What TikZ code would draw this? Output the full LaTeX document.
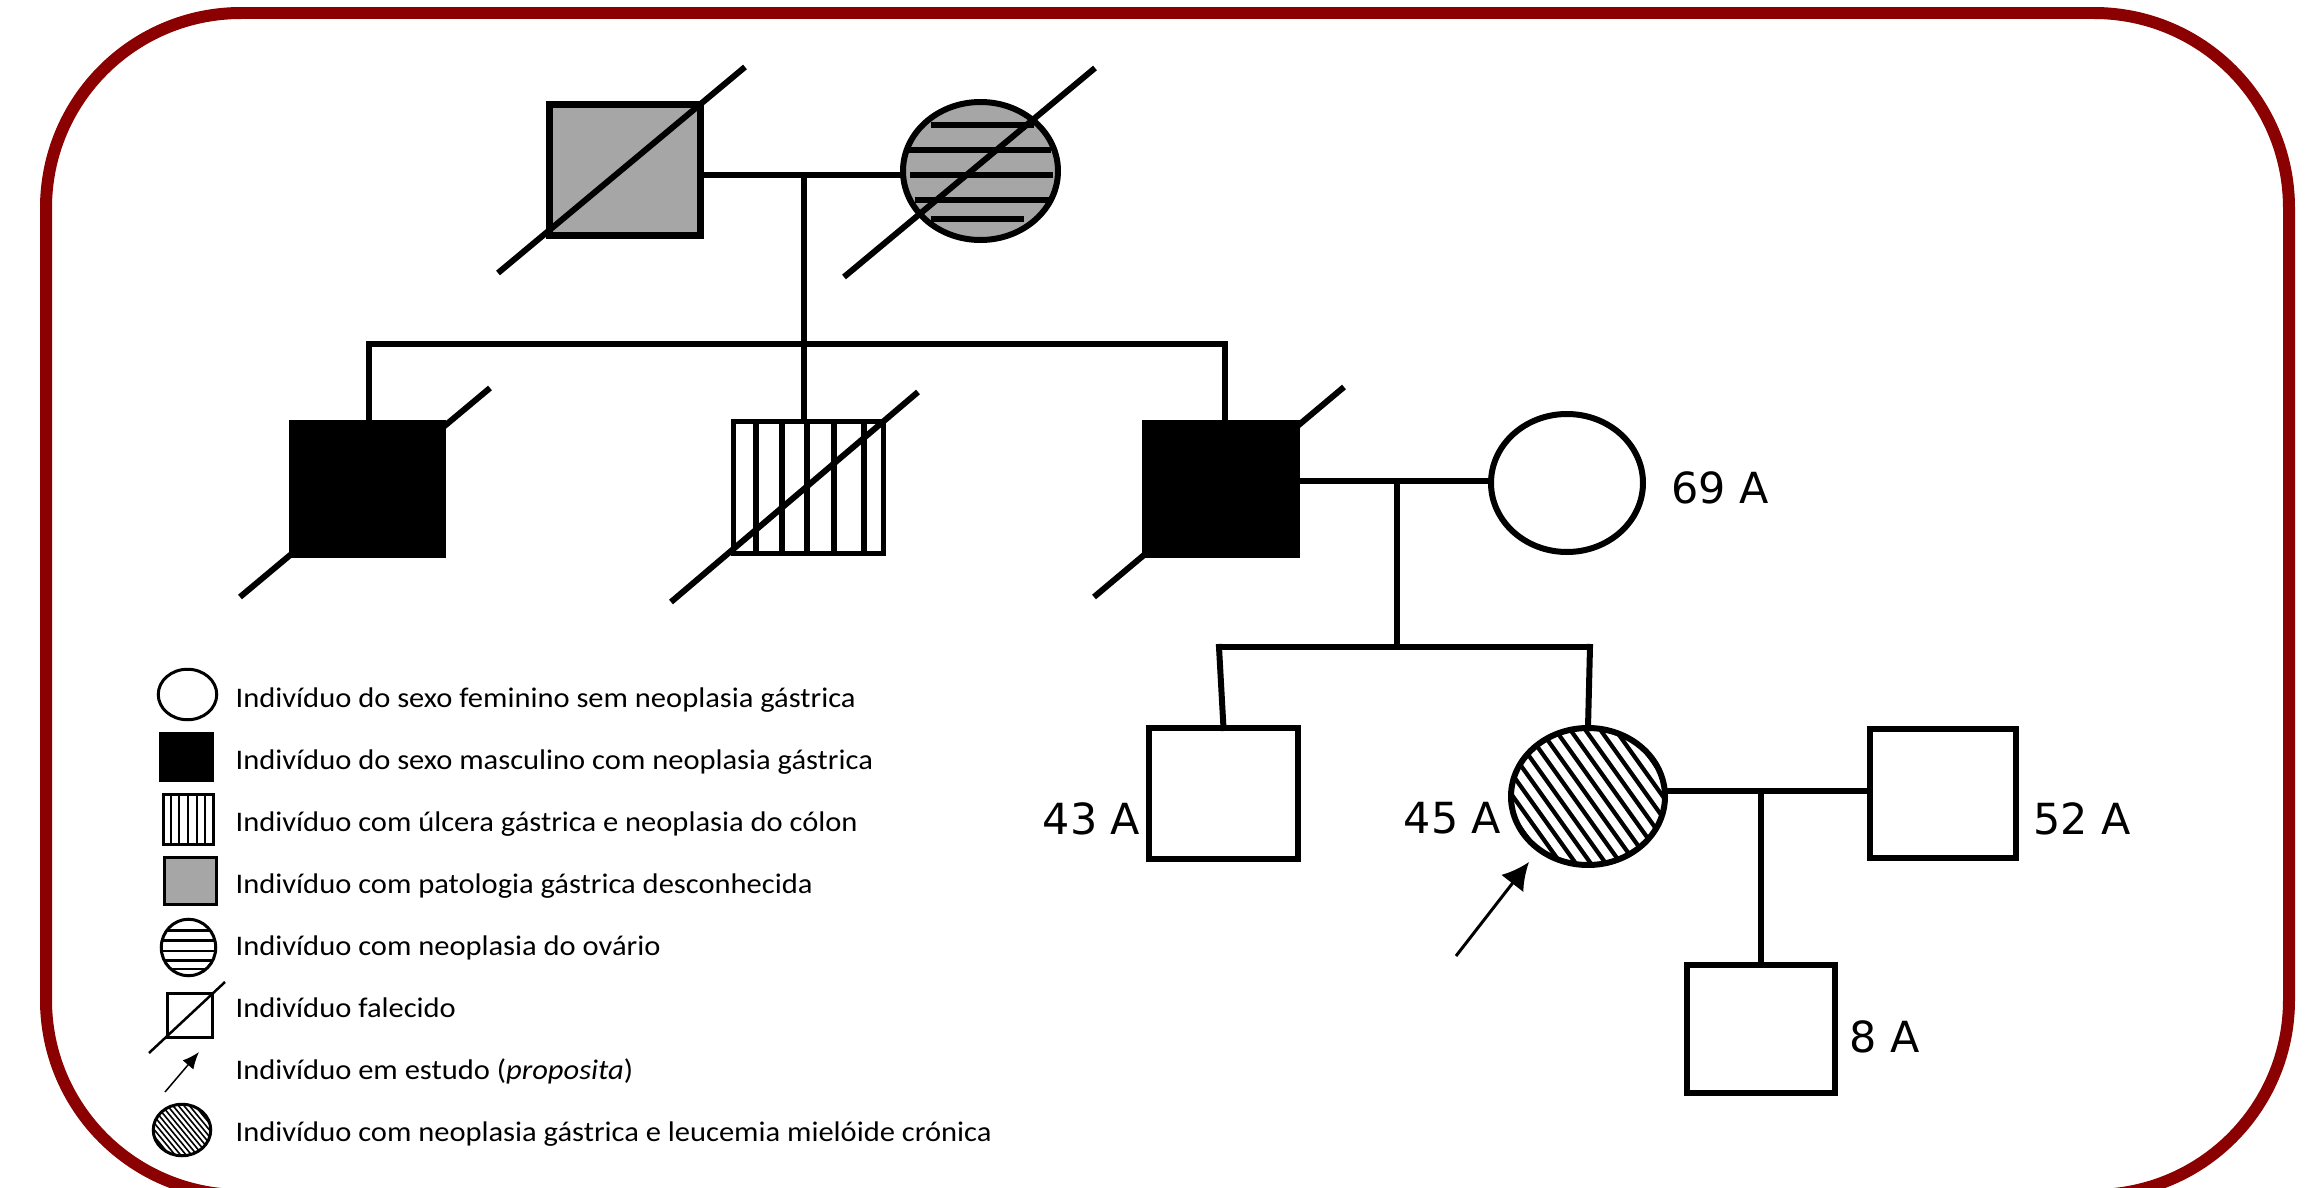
\documentclass[tikz,border=0pt]{standalone}
\usepackage{fontspec}
\usetikzlibrary{shapes.geometric,arrows.meta,calc}
\newfontfamily\legfont[FakeStretch=1.075]{Carlito}
\newfontfamily\agefont{DejaVu Sans}
\definecolor{borderred}{RGB}{139,0,0}
\definecolor{pgray}{RGB}{166,166,166}
\begin{document}
\begin{tikzpicture}[x=0.1mm,y=-0.1mm,
  indsq/.style={draw,rectangle,inner sep=0pt,outer sep=0pt,line width=0.65mm},
  indel/.style={draw,ellipse,inner sep=0pt,outer sep=0pt,line width=0.6mm},
  pline/.style={line width=0.6mm,line cap=rect},
  slashln/.style={line width=0.6mm},
  agelbl/.style={font=\agefont\fontsize{12.2}{14}\selectfont,inner sep=0pt},
  legtxt/.style={font=\legfont\fontsize{8.08}{10}\selectfont,inner sep=0pt,anchor=base west},
  legsq/.style={draw,rectangle,inner sep=0pt,outer sep=0pt,line width=0.3mm},
  legel/.style={draw,ellipse,inner sep=0pt,outer sep=0pt,line width=0.3mm}
]
\useasboundingbox (0,0) rectangle (2323,1188);
% frame
\draw[borderred,line width=1.2mm,rounded corners=19.5mm] (46,13) rectangle (2289,1195);

% ---------- Generation I ----------
\node[indsq,fill=pgray,line width=0.7mm,minimum width=15.1mm,minimum height=13.1mm] (gf) at (625,170) {};
\node[indel,fill=pgray,line width=0.6mm,minimum width=15.5mm,minimum height=13.8mm,
  path picture={
    \foreach \dy/\xa/\xb in {-46/-50/53,-21/-73/70,4/-71/72,29/-66/70,48/-50/43}
      \draw[line width=0.6mm] ($(path picture bounding box.center)+(\xa,\dy)$) -- ($(path picture bounding box.center)+(\xb,\dy)$);
  }] (gm) at (980.5,171) {};
\draw[slashln] (498,273) -- (745,67);
\draw[slashln] (844,277) -- (1095,68);

\coordinate (m1) at (804,175);
\coordinate (sibL) at (369,344);
\coordinate (sibR) at (1225,344);
\draw[pline] (gf.east |- m1) -- (gm.west |- m1);
\draw[pline] (sibL) -- (sibR);

% ---------- Generation II ----------
\node[indsq,fill=black,minimum width=15.1mm,minimum height=13.2mm] (s1) at (367.5,489) {};
\node[indsq,line width=0.5mm,minimum width=15.0mm,minimum height=13.2mm,
  path picture={
    \foreach \dx in {-52,-26,-1,26,56}
      \draw[line width=0.55mm] ($(path picture bounding box.center)+(\dx,-80)$) -- ($(path picture bounding box.center)+(\dx,80)$);
  }] (s2) at (808,487) {};
\node[indsq,fill=black,minimum width=15.2mm,minimum height=13.2mm] (s3) at (1221,489) {};
\node[indel,minimum width=15.2mm,minimum height=13.8mm] (wife) at (1567,483) {};
\draw[slashln] (240,597) -- (490,388);
\draw[slashln] (671,602) -- (918,392);
\draw[slashln] (1094,597) -- (1344,387);

\draw[pline] (sibL) -- (sibL |- s1.north);
\draw[pline] (m1) -- (m1 |- s2.north);
\draw[pline] (sibR) -- (sibR |- s3.north);
\coordinate (m2) at (1397,481);
\draw[pline] (s3.east |- m2) -- (wife.west |- m2);
\node[agelbl,anchor=base west] (a69) at (1671,503) {69 A};

\coordinate (s2L) at (1219,647);
\coordinate (s2R) at (1590,647);
\draw[pline] (m2) -- (m2 |- s2L);
\draw[pline] (s2L) -- (s2R);

% ---------- Generation III ----------
\node[indsq,minimum width=14.9mm,minimum height=13.1mm] (c43) at (1223.5,793.5) {};
\node[indel,line width=0.6mm,minimum width=15.4mm,minimum height=13.7mm,
  path picture={
    \foreach \k in {-12,...,12}
      \draw[line width=0.42mm] ($(path picture bounding box.center)+(\k*15-60,-84)$) -- ($(path picture bounding box.center)+(\k*15+60,84)$);
  }] (prob) at (1588,796.5) {};
\node[indsq,minimum width=14.6mm,minimum height=12.9mm] (husb) at (1943,793.5) {};
\node[indsq,minimum width=14.8mm,minimum height=12.8mm] (child) at (1761,1029) {};

\draw[pline] (s2L) -- (c43.north);
\draw[pline] (s2R) -- (prob.north);
\coordinate (m3) at (1761,791);
\draw[pline] (prob.east |- m3) -- (husb.west |- m3);
\draw[pline] (m3) -- (child.north);

\coordinate (arrTail) at (1456,956);
\coordinate (arrTip) at (1529,862);
\draw[line width=0.3mm,-{Latex[length=7.7pt,width=8pt]}] (arrTail) -- (arrTip);

\node[agelbl,anchor=base east] (a43) at (1141,834) {43 A};
\node[agelbl,anchor=base east] (a45) at (1502,833) {45 A};
\node[agelbl,anchor=base west] (a52) at (2033,834) {52 A};
\node[agelbl,anchor=base west] (a8) at (1849,1052) {8 A};

% ---------- Legend ----------
\node[legel,minimum width=5.85mm,minimum height=5.05mm] (lg1) at (187.5,694.5) {};
\node[legsq,fill=black,line width=0.2mm,minimum width=5.3mm,minimum height=4.8mm] (lg2) at (186.5,757) {};
\node[legsq,minimum width=5.0mm,minimum height=5.05mm,
  path picture={
    \foreach \dx in {-17.3,-8.7,0,8.7,17.3}
      \draw[line width=0.22mm] ($(path picture bounding box.center)+(\dx,-30)$) -- ($(path picture bounding box.center)+(\dx,30)$);
  }] (lg3) at (188,819.5) {};
\node[legsq,fill=pgray,line width=0.3mm,minimum width=5.2mm,minimum height=4.7mm] (lg4) at (190.5,881) {};
\node[legel,minimum width=5.45mm,minimum height=5.65mm,
  path picture={
    \foreach \dy in {-17,-7,3.5,13,21.5}
      \draw[line width=0.25mm] ($(path picture bounding box.center)+(-35,\dy)$) -- ($(path picture bounding box.center)+(35,\dy)$);
  }] (lg5) at (188.5,947.5) {};
\node[legsq,minimum width=4.5mm,minimum height=4.4mm] (lg6) at (189.5,1015) {};
\draw[line width=0.25mm] (149,1053) -- (225,982);
\coordinate (lgTail) at (165,1092);
\coordinate (lgTip) at (199,1052);
\draw[line width=0.15mm,-{Latex[length=4.8pt,width=4pt]}] (lgTail) -- (lgTip);
\node[legel,minimum width=5.75mm,minimum height=5.15mm,
  path picture={
    \foreach \k in {-10,...,10}
      \draw[line width=0.16mm] ($(path picture bounding box.center)+(\k*5.5-28,-34)$) -- ($(path picture bounding box.center)+(\k*5.5+28,34)$);
  }] (lg8) at (182,1130) {};

\node[legtxt] (t1) at (235,707) {Indivíduo do sexo feminino sem neoplasia gástrica};
\node[legtxt] (t2) at (235,769) {Indivíduo do sexo masculino com neoplasia gástrica};
\node[legtxt] (t3) at (235,831) {Indivíduo com úlcera gástrica e neoplasia do cólon};
\node[legtxt] (t4) at (235,893) {Indivíduo com patologia gástrica desconhecida};
\node[legtxt] (t5) at (235,955) {Indivíduo com neoplasia do ovário};
\node[legtxt] (t6) at (235,1017) {Indivíduo falecido};
\node[legtxt] (t7) at (235,1079) {Indivíduo em estudo (\textit{proposita})};
\node[legtxt] (t8) at (235,1141) {Indivíduo com neoplasia gástrica e leucemia mielóide crónica};
\end{tikzpicture}
\end{document}
